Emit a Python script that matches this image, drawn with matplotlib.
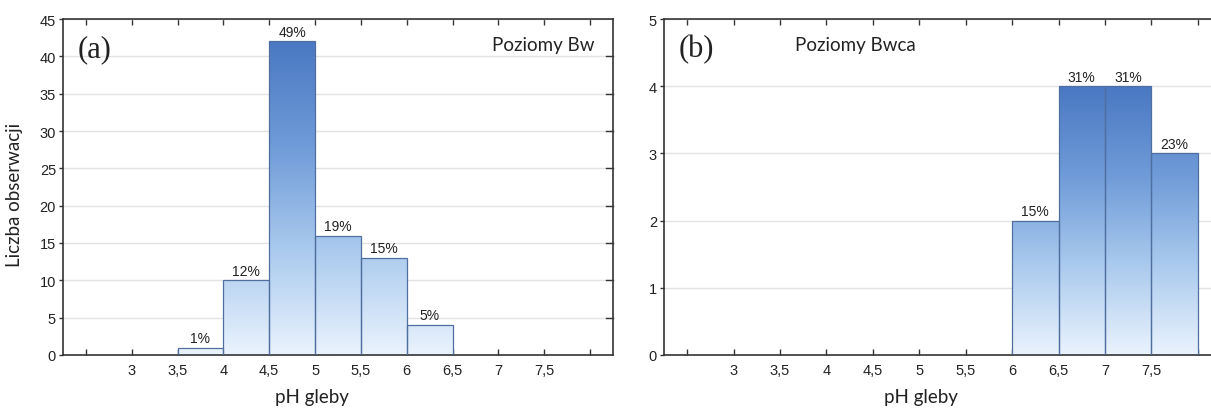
import numpy as np
import matplotlib
matplotlib.use('Agg')
import matplotlib.pyplot as plt
from matplotlib.colors import LinearSegmentedColormap
from matplotlib.ticker import FixedLocator, FuncFormatter

# dane
bins_left = [3.5, 4.0, 4.5, 5.0, 5.5, 6.0]
counts_left = [1, 10, 42, 16, 13, 4]
pct_left = ['1%', '12%', '49%', '19%', '15%', '5%']

bins_right = [6.0, 6.5, 7.0, 7.5]
counts_right = [2, 4, 4, 3]
pct_right = ['15%', '31%', '31%', '23%']

xticks = [2.5, 3, 3.5, 4, 4.5, 5, 5.5, 6, 6.5, 7, 7.5, 8]

cmap = LinearSegmentedColormap.from_list('grad', ['#eaf3fd', '#aacaee', '#6f9bd8', '#4a78c2'])
tick_font = 'Liberation Sans'
label_font = 'Lato'


def fmt(v, pos):
    if v < 2.9 or v > 7.6:
        return ''
    s = ('%g' % v).replace('.', ',')
    return s


def draw(ax, bins, counts, pcts, ymax, ystep, panel, title, title_x):
    bars = ax.bar(bins, counts, width=0.5, align='edge', facecolor='none',
                  edgecolor='#4f6fa0', linewidth=0.9, zorder=3)
    top = max(counts)
    grad = np.linspace(0, 1, 256).reshape(-1, 1)
    for b in bars:
        im = ax.imshow(grad, cmap=cmap, origin='lower', aspect='auto',
                       extent=[2.25, 8.25, 0, top], zorder=2, interpolation='bilinear')
        im.set_clip_path(b)
    for b, p in zip(bars, pcts):
        ax.text(b.get_x() + 0.25, b.get_height() + ymax * 0.008, p, ha='center', va='bottom',
                fontsize=10, family=tick_font, color='#222222', zorder=4)
    ax.set_xlim(2.25, 8.25)
    ax.set_ylim(0, ymax)
    ax.xaxis.set_major_locator(FixedLocator(xticks))
    ax.xaxis.set_major_formatter(FuncFormatter(fmt))
    ax.set_yticks(np.arange(0, ymax + 0.01, ystep))
    ax.yaxis.grid(True, color='#e2e2e2', linewidth=1.0, zorder=0)
    ax.set_axisbelow(True)
    ax.tick_params(axis='x', which='both', direction='in', top=True, length=4, width=1,
                   labelsize=10.5, pad=6, color='#333333')
    ax.tick_params(axis='y', left=True, right=False, direction='out', length=3, width=1,
                   labelsize=10.5, pad=2, color='#333333')
    for lab in ax.get_xticklabels() + ax.get_yticklabels():
        lab.set_family(tick_font)
        lab.set_color('#222222')
    # prawe ticki do srodka
    for y in np.arange(ystep, ymax, ystep):
        ax.plot([8.25 - 0.08, 8.25], [y, y], color='#333333', lw=1, clip_on=False, zorder=5)
    for s in ax.spines.values():
        s.set_color('#333333')
        s.set_linewidth(1.2)
    ax.text(0.027, 0.955, panel, transform=ax.transAxes, ha='left', va='top',
            fontsize=22, family='Liberation Serif', color='#222222')
    ax.text(title_x, 0.925, title, transform=ax.transAxes, ha='left', va='center',
            fontsize=13.5, family=label_font, color='#222222')
    ax.set_xlabel('pH gleby', fontsize=13.5, family=label_font, color='#222222', va='center')
    ax.xaxis.set_label_coords(0.453, -0.125)


fig = plt.figure(figsize=(12.11, 4.10), dpi=100, facecolor='white')
ax1 = fig.add_axes([63 / 1211, 1 - 356 / 410, 550 / 1211, 336 / 410])
ax2 = fig.add_axes([664 / 1211, 1 - 356 / 410, 557 / 1211, 336 / 410])

draw(ax1, bins_left, counts_left, pct_left, 45, 5, '(a)', 'Poziomy Bw', 0.78)
draw(ax2, bins_right, counts_right, pct_right, 5, 1, '(b)', 'Poziomy Bwca', 0.235)
ax2.xaxis.set_label_coords(0.461, -0.125)

ax1.set_ylabel('Liczba obserwacji', fontsize=13.5, family=label_font, color='#222222')
ax1.yaxis.set_label_coords(-0.072, 0.48)

fig.savefig('out.png', dpi=100, facecolor='white')
